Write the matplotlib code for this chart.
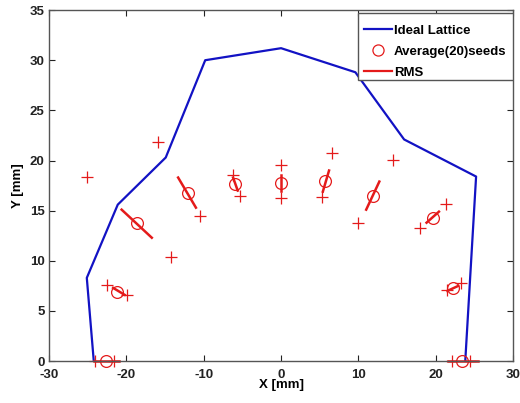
import matplotlib
matplotlib.use("Agg")
import matplotlib.pyplot as plt
from matplotlib.lines import Line2D
from matplotlib.patches import Rectangle

plt.rcParams['font.family'] = ['Liberation Sans', 'DejaVu Sans']
plt.rcParams['axes.unicode_minus'] = False

# Ideal lattice outline
lattice_x = [-24.2, -25.1, -21.1, -14.9, -9.8, 0.0, 9.6, 15.9, 25.2, 23.8]
lattice_y = [0.0, 8.3, 15.6, 20.3, 30.0, 31.2, 28.8, 22.1, 18.4, 0.0]

# Average of 20 seeds
avg_x = [-22.6, -21.2, -18.6, -12.0, -6.0, 0.0, 5.7, 11.9, 19.6, 22.2, 23.4]
avg_y = [0.0, 6.9, 13.8, 16.8, 17.7, 17.8, 18.0, 16.5, 14.3, 7.3, 0.0]

# Extreme seeds (+ markers), two per position
plus_x = [-24.1, -21.6, -22.5, -19.9, -25.1, -14.2, -15.9, -10.5, -6.2, -5.3,
          0.0, 0.0, 6.6, 5.3, 14.5, 10.0, 21.3, 18.0, 23.3, 21.5, 22.1, 24.4]
plus_y = [0.0, 0.0, 7.6, 6.6, 18.4, 10.4, 21.8, 14.5, 18.6, 16.5,
          19.6, 16.3, 20.7, 16.4, 20.1, 13.8, 15.7, 13.3, 7.8, 7.1, 0.0, 0.0]

# RMS segments
rms_x0 = [-24.2, -21.7, -20.6, -13.3, -6.2, 0.0, 6.2, 12.7, 20.4, 22.9, 21.6]
rms_y0 = [0.0, 7.3, 15.1, 18.3, 18.3, 18.6, 19.0, 17.9, 14.9, 7.5, 0.0]
rms_x1 = [-21.0, -20.2, -16.7, -11.0, -5.6, 0.0, 5.4, 11.0, 18.8, 21.5, 25.4]
rms_y1 = [0.0, 6.6, 12.3, 15.3, 17.0, 17.0, 16.9, 15.1, 13.8, 7.0, 0.0]

xticks = [-30, -20, -10, 0, 10, 20, 30]
yticks = [0, 5, 10, 15, 20, 25, 30, 35]

blue = '#1212c4'
red = '#e41a1a'

fig = plt.figure(figsize=(5.2, 4.03), dpi=100)
ax = fig.add_axes([0.094, 0.104, 0.893, 0.871])

ax.plot(lattice_x, lattice_y, color=blue, lw=1.6, label='Ideal Lattice')
for x0, y0, x1, y1 in zip(rms_x0, rms_y0, rms_x1, rms_y1):
    ax.plot([x0, x1], [y0, y1], color=red, lw=1.8, clip_on=False)
ax.plot(avg_x, avg_y, 'o', mfc='none', mec=red, ms=8.5, mew=0.9, clip_on=False)
ax.plot(plus_x, plus_y, '+', color=red, ms=8, mew=0.9, clip_on=False)

ax.set_xlim(-30, 30)
ax.set_ylim(0, 35)
ax.set_xticks(xticks)
ax.set_yticks(yticks)
ax.tick_params(direction='in', top=True, right=True, length=4, width=0.8,
               labelsize=9.5, colors='#222222')
ax.tick_params(axis='x', pad=5.5)
ax.tick_params(axis='y', pad=3)
for lab in ax.get_xticklabels() + ax.get_yticklabels():
    lab.set_fontweight('bold')
for s in ax.spines.values():
    s.set_color('#555555')
    s.set_linewidth(1.0)

ax.set_xlabel('X [mm]', fontsize=9.5, fontweight='bold', labelpad=-1)
ax.set_ylabel('Y [mm]', fontsize=9.5, fontweight='bold', labelpad=4)

# legend frame (MATLAB style box)
frame = Rectangle((358 / 520, 1 - 80 / 403), 155 / 520, 67 / 403,
                  transform=fig.transFigure, facecolor='white',
                  edgecolor='#555555', lw=1.0, zorder=4)
ax.add_artist(frame)

handles = [
    Line2D([], [], color=blue, lw=1.6),
    Line2D([], [], ls='none', marker='o', mfc='none', mec=red, ms=8, mew=0.9),
    Line2D([], [], color=red, lw=1.6),
]
leg = ax.legend(handles, ['Ideal Lattice', 'Average(20)seeds', 'RMS'],
                loc='upper right', bbox_to_anchor=(1.0, 0.977),
                prop={'size': 9.5, 'weight': 'bold'}, frameon=False,
                borderpad=0.5, labelspacing=0.66, handlelength=2.1,
                handletextpad=0.2, borderaxespad=0.0)
leg.set_zorder(5)

fig.savefig('out.png', dpi=100)
